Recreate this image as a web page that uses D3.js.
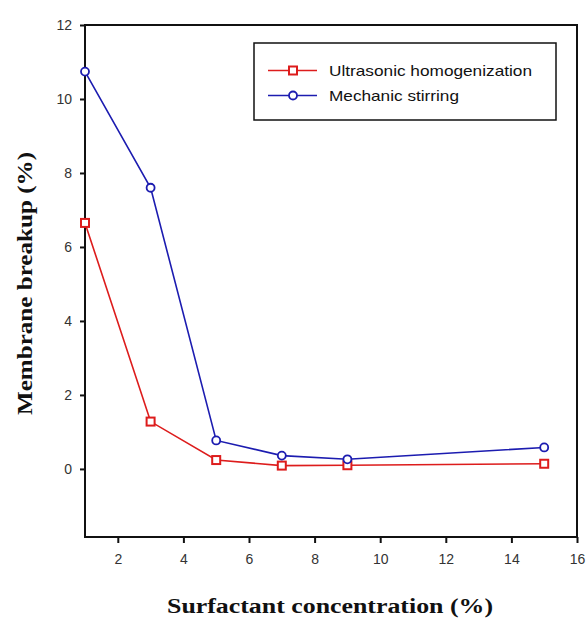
<!DOCTYPE html>
<html><head><meta charset="utf-8">
<script src="https://cdn.jsdelivr.net/npm/d3@7"></script>
<style>body{margin:0;background:#fff}</style>
</head><body>
<script>
const xValues = [1, 3, 5, 7, 9, 15];
const ultrasonic = [6.65, 1.28, 0.24, 0.09, 0.1, 0.14];
const mechanic = [10.74, 7.6, 0.77, 0.36, 0.26, 0.58];
const seriesNames = ["Ultrasonic homogenization", "Mechanic stirring"];
const xTicks = [2, 4, 6, 8, 10, 12, 14, 16];
const yTicks = [0, 2, 4, 6, 8, 10, 12];

const W = 586, H = 619;
const L = 85, R = 577, T = 25, B = 537;
const svg = d3.select("body").append("svg").attr("width", W).attr("height", H);
const x = d3.scaleLinear().domain([1, 16]).range([L, R]);
const y = d3.scaleLinear().domain([-1.84, 12]).range([B, T]);

// frame
svg.append("rect").attr("x", L).attr("y", T).attr("width", R - L).attr("height", B - T)
  .attr("fill", "none").attr("stroke", "#111").attr("stroke-width", 2);

const xa = svg.append("g").attr("transform", `translate(0,${B})`)
  .call(d3.axisBottom(x).tickValues(xTicks).tickSize(6).tickSizeOuter(0).tickPadding(11));
const ya = svg.append("g").attr("transform", `translate(${L},0)`)
  .call(d3.axisLeft(y).tickValues(yTicks).tickSize(5).tickSizeOuter(0).tickPadding(8));
[xa, ya].forEach(a => {
  a.select(".domain").remove();
  a.selectAll("line").attr("stroke", "#111").attr("stroke-width", 2);
  a.selectAll("text").attr("font-family", "Liberation Sans, Arial, sans-serif")
    .attr("font-size", 14).attr("fill", "#333");
});

const series = [
  {name: seriesNames[0], vals: ultrasonic, color: "#dd1c1c", shape: "square", w: 203},
  {name: seriesNames[1], vals: mechanic, color: "#1c1cb0", shape: "circle", w: 130}
];
const line = d3.line().x(d => x(d[0])).y(d => y(d[1]));

function marker(g, cx, cy, s) {
  if (s.shape === "square") {
    g.append("rect").attr("x", cx - 4).attr("y", cy - 4).attr("width", 8).attr("height", 8)
      .attr("fill", "#fff").attr("stroke", s.color).attr("stroke-width", 2);
  } else {
    g.append("circle").attr("cx", cx).attr("cy", cy).attr("r", 4)
      .attr("fill", "#fff").attr("stroke", s.color).attr("stroke-width", 1.8);
  }
}

series.forEach(s => {
  const pts = xValues.map((v, i) => [v, s.vals[i]]);
  svg.append("path").datum(pts).attr("d", line).attr("fill", "none")
    .attr("stroke", s.color).attr("stroke-width", 1.6);
  const g = svg.append("g");
  pts.forEach(p => marker(g, x(p[0]), y(p[1]), s));
});

// legend
const lg = svg.append("g");
lg.append("rect").attr("x", 254).attr("y", 43).attr("width", 302).attr("height", 77)
  .attr("fill", "#fff").attr("stroke", "#111").attr("stroke-width", 1.5);
series.forEach((s, i) => {
  const ly = 70.5 + i * 25;
  lg.append("line").attr("x1", 268).attr("x2", 317).attr("y1", ly).attr("y2", ly)
    .attr("stroke", s.color).attr("stroke-width", 1.6);
  marker(lg, 293, ly, s);
  lg.append("text").attr("x", 329).attr("y", ly + 5).text(s.name)
    .attr("font-family", "Liberation Sans, Arial, sans-serif").attr("font-size", 15)
    .attr("textLength", s.w).attr("lengthAdjust", "spacingAndGlyphs")
    .attr("fill", "#111");
});

// axis titles
svg.append("text").attr("x", 167).attr("y", 613)
  .attr("textLength", 326).attr("lengthAdjust", "spacingAndGlyphs")
  .attr("font-family", "Liberation Serif, Times New Roman, serif").attr("font-weight", "bold")
  .attr("font-size", 20).attr("fill", "#111").text("Surfactant concentration (%)");
svg.append("text").attr("transform", `translate(32,415) rotate(-90)`)
  .attr("textLength", 263).attr("lengthAdjust", "spacingAndGlyphs")
  .attr("font-family", "Liberation Serif, Times New Roman, serif").attr("font-weight", "bold")
  .attr("font-size", 20).attr("fill", "#111").text("Membrane breakup (%)");
</script>
</body></html>
